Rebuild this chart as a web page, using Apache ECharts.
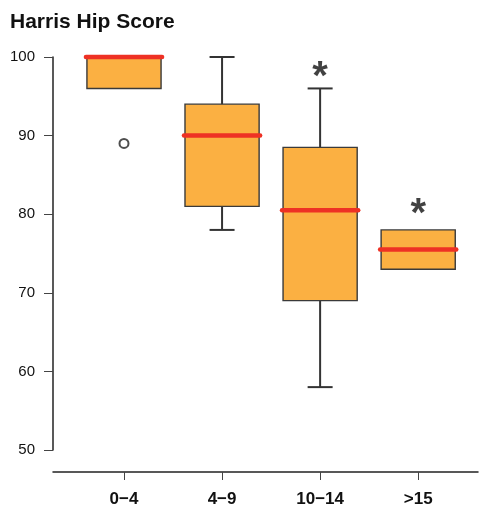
<!DOCTYPE html>
<html>
<head>
<meta charset="utf-8">
<script src="https://cdn.jsdelivr.net/npm/echarts@6/dist/echarts.min.js"></script>
<style>
  html, body { margin: 0; padding: 0; background: #fff; }
  #main { width: 480px; height: 506px; }
</style>
</head>
<body>
<div id="main"></div>
<script>
// groups on the x axis
var categories = ['0\u22124', '4\u22129', '10\u221214', '>15'];
// five-number summaries: min, Q1, median, Q3, max
var lowWhisker = [96, 78, 58, 73];
var q1 = [96, 81, 69, 73];
var median = [100, 90, 80.5, 75.5];
var q3 = [100, 94, 88.5, 78];
var highWhisker = [100, 100, 96, 78];
// outliers [group index, value]
var outliers = [[0, 89]];
// significance stars [group index, value]
var stars = [[2, 98.3], [3, 80.9]];
var yTicks = [50, 60, 70, 80, 90, 100];

var boxData = categories.map(function (c, i) {
  return [i, lowWhisker[i], q1[i], median[i], q3[i], highWhisker[i]];
});

function renderBox(params, api) {
  var x = api.value(0);
  var unit = api.size([1, 0])[0];
  var half = unit * 0.378;
  var cap = 12.5;
  var pMin = api.coord([x, api.value(1)]);
  var pQ1 = api.coord([x, api.value(2)]);
  var pMed = api.coord([x, api.value(3)]);
  var pQ3 = api.coord([x, api.value(4)]);
  var pMax = api.coord([x, api.value(5)]);
  var cx = pMed[0];
  var wStyle = { stroke: '#333', lineWidth: 2 };
  var children = [];
  if (pMin[1] - pQ1[1] > 0.5) {
    children.push({ type: 'line', shape: { x1: cx, y1: pQ1[1], x2: cx, y2: pMin[1] }, style: wStyle });
    children.push({ type: 'line', shape: { x1: cx - cap, y1: pMin[1], x2: cx + cap, y2: pMin[1] }, style: wStyle });
  }
  if (pQ3[1] - pMax[1] > 0.5) {
    children.push({ type: 'line', shape: { x1: cx, y1: pMax[1], x2: cx, y2: pQ3[1] }, style: wStyle });
    children.push({ type: 'line', shape: { x1: cx - cap, y1: pMax[1], x2: cx + cap, y2: pMax[1] }, style: wStyle });
  }
  children.push({
    type: 'rect',
    shape: { x: cx - half, y: pQ3[1], width: half * 2, height: pQ1[1] - pQ3[1] },
    style: { fill: '#FBB042', stroke: '#3a3a3a', lineWidth: 1.4 }
  });
  children.push({
    type: 'line',
    shape: { x1: cx - half - 1, y1: pMed[1], x2: cx + half + 1, y2: pMed[1] },
    style: { stroke: '#EE3124', lineWidth: 4.5, lineCap: 'round' }
  });
  return { type: 'group', children: children };
}

var chart = echarts.init(document.getElementById('main'));
chart.setOption({
  animation: false,
  textStyle: { fontFamily: 'Liberation Sans, Arial, sans-serif' },
  title: {
    text: 'Harris Hip Score',
    left: 5,
    top: 7,
    textStyle: { fontSize: 21, fontWeight: 'bold', color: '#111', fontFamily: 'Liberation Sans, Arial, sans-serif' }
  },
  grid: { left: 53, right: 2, top: 57, bottom: 56, outerBoundsMode: 'none', containLabel: false },
  xAxis: {
    type: 'value',
    min: -0.724,
    max: 3.61,
    offset: 22,
    splitLine: { show: false },
    axisLine: { show: true, onZero: false, lineStyle: { color: '#222', width: 1.5 } },
    axisTick: { show: true, length: 8, customValues: [0, 1, 2, 3], lineStyle: { color: '#444', width: 1 } },
    axisLabel: {
      customValues: [0, 1, 2, 3],
      margin: 19,
      fontSize: 17,
      fontWeight: 'bold',
      color: '#111',
      formatter: function (v) { return categories[Math.round(v)]; }
    }
  },
  yAxis: {
    type: 'value',
    min: 50,
    max: 100,
    interval: 10,
    splitLine: { show: false },
    axisLine: { show: true, onZero: false, lineStyle: { color: '#222', width: 1.5 } },
    axisTick: { show: true, length: 9, lineStyle: { color: '#444', width: 1 } },
    axisLabel: {
      margin: 18,
      fontSize: 15,
      color: '#111',
      customValues: yTicks
    }
  },
  series: [
    {
      type: 'custom',
      renderItem: renderBox,
      data: boxData,
      encode: { x: 0, y: [1, 2, 3, 4, 5] }
    },
    {
      type: 'scatter',
      data: outliers,
      symbol: 'emptyCircle',
      symbolSize: 9,
      itemStyle: { color: '#222', borderColor: '#222', borderWidth: 1 }
    },
    {
      type: 'scatter',
      data: stars,
      symbolSize: 0,
      label: {
        show: true,
        position: 'inside',
        formatter: '*',
        fontSize: 40,
        fontWeight: 'bold',
        color: '#111',
        offset: [0, 8]
      }
    }
  ]
});
</script>
</body>
</html>
